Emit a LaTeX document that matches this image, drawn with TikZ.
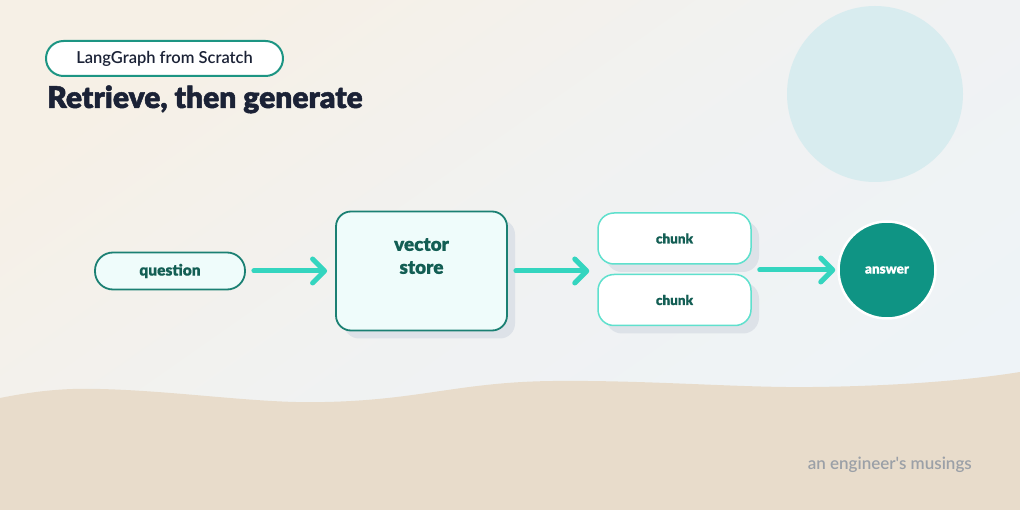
\documentclass[tikz,border=0pt]{standalone}
\usepackage{fontspec}
\setmainfont{Lato}
\newfontfamily\heavyfont{Lato Black}[FakeBold=0.6]
\newfontfamily\titlefont{Lato Black}[FakeBold=1.6]
\newfontfamily\semifont{Lato Semibold}
\usetikzlibrary{arrows.meta,shadows,positioning}

\definecolor{bgwarm}{HTML}{F6F0E6}
\definecolor{bgcool}{HTML}{EEF3F7}
\definecolor{sand}{HTML}{E8DCCB}
\definecolor{moon}{HTML}{D8ECEF}
\definecolor{darkteal}{HTML}{1B8073}
\definecolor{textteal}{HTML}{135E54}
\definecolor{paleteal}{HTML}{EFFCFB}
\definecolor{lightteal}{HTML}{5FE0CD}
\definecolor{arrowteal}{HTML}{34D5BF}
\definecolor{answerteal}{HTML}{0F9484}
\definecolor{tagteal}{HTML}{1D9583}
\definecolor{shadowgrey}{HTML}{DDE2E8}
\definecolor{titlenavy}{HTML}{1B2236}
\definecolor{creditgrey}{HTML}{9BA0A7}

\begin{document}
\begin{tikzpicture}[
    x = 1pt, y = -1pt,
    line join=round,
    cardshadow/.style = {drop shadow={shadow xshift=8pt, shadow yshift=-8pt, fill=shadowgrey, opacity=1}},
    flow/.style = {line width=5pt, draw=arrowteal, line cap=round,
        -{Straight Barb[length=12pt, width=24pt, round]}, shorten <=8pt, shorten >=8pt},
    softbox/.style = {draw=darkteal, line width=1.8pt, fill=paleteal, text=textteal,
        font=\heavyfont\fontsize{15.5}{18}\selectfont},
    chunkbox/.style = {draw=lightteal, line width=1.5pt, fill=white, rounded corners=16pt,
        minimum width=153pt, minimum height=51pt, text=textteal,
        font=\heavyfont\fontsize{13.5}{16}\selectfont, cardshadow},
    storelabel/.style = {anchor=north, yshift=-24pt, align=center, text=textteal,
        font=\heavyfont\fontsize{19}{23}\selectfont}
]
    \useasboundingbox (0,0) rectangle (1020,510);

    % backdrop
    \shade[top color=bgwarm, bottom color=bgcool, middle color=bgcool!70!bgwarm, shading angle=35]
        (0,0) rectangle (1020,510);
    \fill[moon] (875,94) circle[radius=88pt];
    \fill[sand] (0,398) .. controls (40,390) and (70,388) .. (100,389)
        .. controls (180,391) and (260,404) .. (325,402)
        .. controls (420,400) and (460,382) .. (553,381)
        .. controls (650,380) and (740,388) .. (813,387)
        .. controls (900,386) and (970,380) .. (1020,372)
        -- (1020,510) -- (0,510) -- cycle;

    % heading
    \node[draw=tagteal, line width=2pt, fill=white, rounded corners=17.5pt,
        minimum width=237pt, minimum height=35pt, text=titlenavy,
        font=\semifont\fontsize{16.5}{18}\selectfont] (series) at (164.5,58.5) {LangGraph from Scratch};
    \node[anchor=base west, inner sep=0pt, text=titlenavy,
        font=\titlefont\fontsize{30}{36}\selectfont] (title) at (47,108) {Retrieve, then generate};

    % pipeline
    \node[softbox, rounded corners=18pt, minimum width=150pt, minimum height=37pt] (question) at (170,271) {question};
    \node[softbox, rounded corners=15pt, minimum width=171pt, minimum height=119pt, cardshadow,
        label={[storelabel]north:{vector\\store}}] (store) at (421.5,271) {};
    \node[chunkbox] (chunkA) at (674.5,238.5) {chunk};
    \node[chunkbox, below=9pt of chunkA] (chunkB) {chunk};
    \node[circle, minimum size=97pt, fill=answerteal, draw=white, line width=2.5pt, text=white,
        font=\heavyfont\fontsize{13.5}{16}\selectfont] (answer) at (887,270) {answer};

    \draw[flow] (question) -- (store);
    \draw[flow] (store) -- (store -| chunkA.west);
    \draw[flow, shorten >=2pt] (answer -| chunkA.east) -- (answer);

    \node[anchor=base east, inner sep=0pt, text=creditgrey,
        font=\semifont\fontsize{17}{18}\selectfont] (credit) at (972,469) {an engineer's musings};
\end{tikzpicture}
\end{document}
